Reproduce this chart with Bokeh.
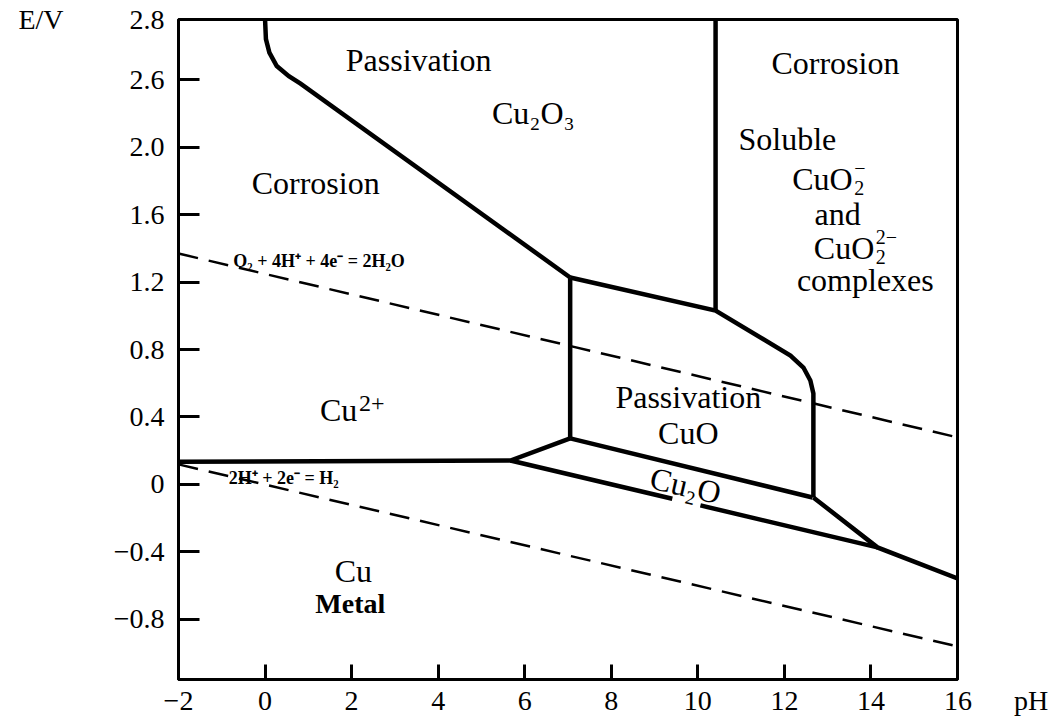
from bokeh.plotting import figure
from bokeh.models import FixedTicker, Label, LinearAxis, Range1d
from bokeh.embed import file_html
from bokeh.resources import INLINE

SERIF = "Liberation Serif"

# ---- axes ----------------------------------------------------------------
ph_ticks = [-2, 0, 2, 4, 6, 8, 10, 12, 14, 16]
ph_tick_labels = ["−2", "0", "2", "4", "6", "8", "10", "12", "14", "16"]
ph_name = "pH"

e_ticks = [-0.8, -0.4, 0.0, 0.4, 0.8, 1.2, 1.6, 2.0, 2.4, 2.756]
e_tick_labels = ["−0.8", "−0.4", "0", "0.4", "0.8", "1.2", "1.6", "2.0", "2.6", "2.8"]
e_name = "E/V"

# ---- phase boundaries (pH, E) --------------------------------------------
# Cu2+ / Cu2O3
cu2_cu2o3_ph = [0.0, 0.02, 0.10, 0.27, 0.55, 0.82, 7.05]
cu2_cu2o3_e = [2.756, 2.64, 2.56, 2.48, 2.42, 2.376, 1.227]

# Cu2O3 / CuO, then CuO / soluble cuprates
cuo_top_ph = [7.05, 10.41, 12.14, 12.44, 12.60, 12.67, 12.67]
cuo_top_e = [1.227, 1.031, 0.764, 0.693, 0.616, 0.539, -0.077]

# Cu2O3 / soluble cuprates
cu2o3_sol_ph = [10.41, 10.41]
cu2o3_sol_e = [2.756, 1.031]

# Cu2+ / CuO
cu2_cuo_ph = [7.05, 7.05]
cu2_cuo_e = [1.227, 0.273]

# Cu / Cu2+ and the Cu2+ / Cu2O wedge
cu_cu2_ph = [-2.0, 5.67, 7.05]
cu_cu2_e = [0.135, 0.142, 0.273]

# CuO / Cu2O
cuo_cu2o_ph = [7.05, 12.65]
cuo_cu2o_e = [0.273, -0.077]

# Cu2O / Cu (broken under the Cu2O label)
cu2o_cu_ph = [5.67, 9.41, float("nan"), 10.06, 14.15]
cu2o_cu_e = [0.142, -0.085, float("nan"), -0.124, -0.373]

# Cu / soluble cuprates
cu_sol_ph = [12.67, 14.15, 16.0]
cu_sol_e = [-0.077, -0.373, -0.557]

# ---- water stability lines -----------------------------------------------
o2_ph = [-2.0, 16.0]
o2_e = [1.369, 0.279]
h2_ph = [-2.0, 16.0]
h2_e = [0.119, -0.960]

p = figure(
    width=1064, height=719,
    x_range=Range1d(-2, 16), y_range=Range1d(-1.156, 2.756),
    output_backend="svg", toolbar_location=None,
    min_border_left=178, min_border_right=107,
    min_border_top=19, min_border_bottom=40,
)
p.grid.visible = False
p.background_fill_color = "white"
p.border_fill_color = "white"
p.outline_line_color = "black"
p.outline_line_width = 3

# the pH name sits on the tick-label line, just right of "16";
# no-break spaces keep "16" centred on its tick
NBSP = "\u00a0"
ph_labels = dict(zip(ph_ticks, ph_tick_labels))
ph_labels[ph_ticks[-1]] = NBSP * 11 + ph_tick_labels[-1] + NBSP * 6 + ph_name
p.xaxis.ticker = FixedTicker(ticks=ph_ticks)
p.xaxis.major_label_overrides = ph_labels
p.yaxis.ticker = FixedTicker(ticks=e_ticks)
p.yaxis.major_label_overrides = dict(zip(e_ticks, e_tick_labels))

for ax in (p.xaxis, p.yaxis):
    ax.axis_line_color = "black"
    ax.axis_line_width = 3
    ax.major_tick_line_color = "black"
    ax.major_tick_line_width = 3
    ax.major_tick_out = 0
    ax.minor_tick_line_color = None
    ax.major_label_text_font = SERIF
    ax.major_label_text_font_size = "28px"
    ax.major_label_text_color = "black"
p.xaxis.major_tick_in = 15
p.xaxis.major_label_standoff = 5
p.yaxis.major_tick_in = 21
p.yaxis.major_label_standoff = 14

# potential name, level with the top tick, outside the tick labels
e_axis = LinearAxis(
    ticker=FixedTicker(ticks=[e_ticks[-1]]),
    major_label_overrides={e_ticks[-1]: e_name},
    axis_line_color=None, major_tick_line_color=None,
    minor_tick_line_color=None, major_tick_out=0, major_tick_in=0,
    major_label_standoff=47,
    major_label_text_font=SERIF, major_label_text_font_size="28px",
    major_label_text_color="black",
)
p.add_layout(e_axis, "left")

# boundaries
solid = dict(line_color="black", line_width=4.5, line_join="miter")
for xs, ys in [
    (cu2_cu2o3_ph, cu2_cu2o3_e),
    (cuo_top_ph, cuo_top_e),
    (cu2o3_sol_ph, cu2o3_sol_e),
    (cu2_cuo_ph, cu2_cuo_e),
    (cu_cu2_ph, cu_cu2_e),
    (cuo_cu2o_ph, cuo_cu2o_e),
    (cu2o_cu_ph, cu2o_cu_e),
    (cu_sol_ph, cu_sol_e),
]:
    p.line(xs, ys, **solid)

# water lines
dashed = dict(line_color="black", line_width=2.5, line_dash="20 11")
p.line(o2_ph, o2_e, **dashed)
p.line(h2_ph, h2_e, **dashed)


def label(x, y, text, size=32, style="normal", align="center", angle=0.0,
          dx=0, dy=0):
    p.add_layout(Label(
        x=x, y=y, text=text, x_offset=dx, y_offset=dy,
        text_font=SERIF, text_font_size=f"{size}px", text_font_style=style,
        text_align=align, text_baseline="middle", text_color="black",
        angle=angle,
    ))


# region names
label(3.55, 2.513, "Passivation")
label(6.20, 2.199, "Cu₂O₃")
label(1.17, 1.784, "Corrosion")
label(13.18, 2.501, "Corrosion")
label(12.07, 2.050, "Soluble")

label(12.18, 1.813, "CuO", align="left")
label(12.18, 1.813, "2", size=20, align="left", dx=62, dy=-9)
label(12.18, 1.813, "−", size=20, align="left", dx=62, dy=11)

label(13.23, 1.606, "and")

label(12.68, 1.404, "CuO", align="left")
label(12.68, 1.404, "2", size=20, align="left", dx=62, dy=-9)
label(12.68, 1.404, "2−", size=20, align="left", dx=62, dy=11)

label(13.87, 1.209, "complexes")

label(1.27, 0.439, "Cu", align="left")
label(1.27, 0.439, "2+", size=24, align="left", dx=39, dy=7)

label(9.78, 0.516, "Passivation")
label(9.78, 0.308, "CuO")
label(9.72, -0.006, "Cu₂O", angle=-0.23)

label(2.04, -0.510, "Cu")
label(1.97, -0.705, "Metal", size=28, style="bold")

# reaction labels on the water lines
label(1.30, 1.327, "O₂ + 4H⁺ +  4e⁻ = 2H₂O", size=18, style="bold")
label(0.43, 0.041, "2H⁺ + 2e⁻ = H₂", size=18, style="bold")

open("out.html", "w").write(file_html(p, INLINE))
